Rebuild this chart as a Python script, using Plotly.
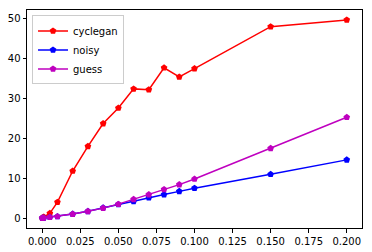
import plotly.graph_objects as go

x = [0.0, 0.001, 0.005, 0.01, 0.02, 0.03, 0.04, 0.05, 0.06, 0.07, 0.08, 0.09, 0.1, 0.15, 0.2]
cyclegan = [0.0, 0.3, 1.2, 4.0, 11.8, 18.0, 23.7, 27.6, 32.4, 32.2, 37.7, 35.4, 37.5, 48.0, 49.7]
noisy = [0.0, 0.05, 0.2, 0.4, 1.0, 1.7, 2.6, 3.4, 4.2, 5.1, 5.9, 6.7, 7.5, 11.0, 14.6]
guess = [0.0, 0.05, 0.2, 0.4, 1.0, 1.7, 2.5, 3.5, 4.7, 5.9, 7.2, 8.4, 9.8, 17.5, 25.3]

names = ["cyclegan", "noisy", "guess"]
colors = ["#ff0000", "#0000ff", "#bf00bf"]
series = [cyclegan, noisy, guess]

fig = go.Figure()
for n, c, s in zip(names, colors, series):
    fig.add_trace(go.Scatter(x=x, y=s, name=n, mode="lines+markers",
                             line=dict(color=c, width=1.5),
                             marker=dict(symbol="pentagon", size=7, color=c)))

axis_common = dict(showgrid=False, zeroline=False, showline=True, linecolor="black",
                   linewidth=1, mirror=True, ticks="outside", ticklen=3.5,
                   tickcolor="black", automargin=False,
                   tickfont=dict(family="DejaVu Sans", size=10, color="black"))
fig.update_xaxes(range=[-0.01, 0.21], tickvals=[0, 0.025, 0.05, 0.075, 0.1, 0.125, 0.15, 0.175, 0.2],
                 ticktext=["0.000", "0.025", "0.050", "0.075", "0.100", "0.125", "0.150", "0.175", "0.200"],
                 **axis_common)
fig.update_yaxes(range=[-2.485, 52.185], tickvals=[0, 10, 20, 30, 40, 50], **axis_common)

fig.update_layout(
    width=372, height=252,
    margin=dict(l=27, r=10, t=10, b=24),
    plot_bgcolor="white", paper_bgcolor="white",
    font=dict(family="DejaVu Sans", size=10, color="black"),
    legend=dict(x=0.015, y=0.975, xanchor="left", yanchor="top",
                bgcolor="rgba(255,255,255,0.8)", bordercolor="#cccccc", borderwidth=1,
                font=dict(family="DejaVu Sans", size=10), tracegroupgap=0,
                itemwidth=30),
    showlegend=True,
)

fig.write_html("out.html", config={"displayModeBar": False},
               post_script="document.body.style.margin='0';document.body.style.padding='0';")
